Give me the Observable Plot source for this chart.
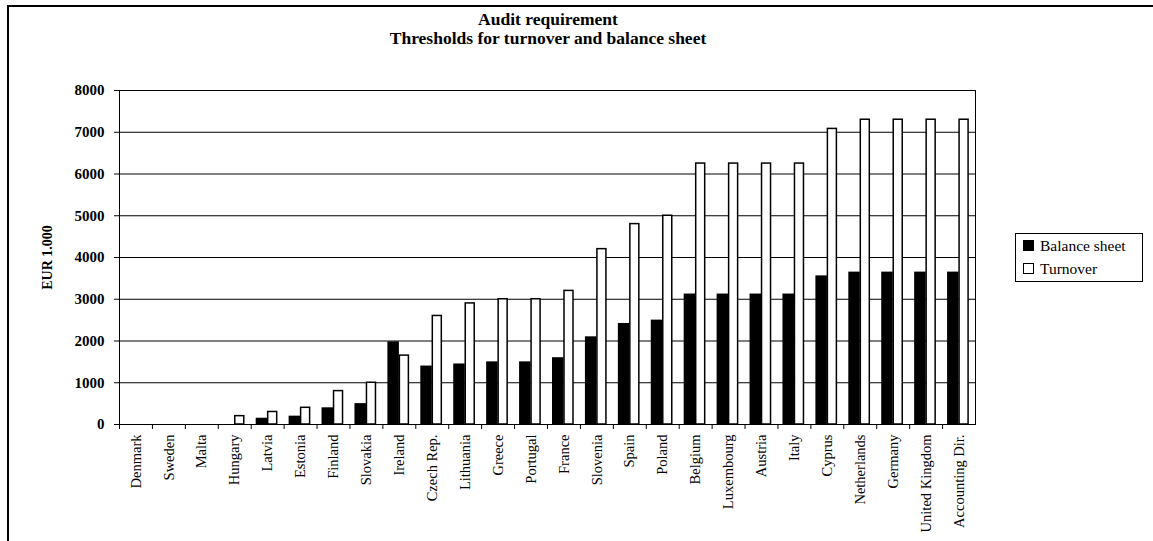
<!DOCTYPE html>
<html><head><meta charset="utf-8">
<script src="https://cdn.jsdelivr.net/npm/d3@7"></script>
<script src="https://cdn.jsdelivr.net/npm/@observablehq/plot@0.6"></script>
<style>
body{margin:0;background:#fff;}
#wrap{position:relative;width:1153px;height:541px;overflow:hidden;font-family:"Liberation Serif","Times New Roman",serif;color:#000;}
#border{position:absolute;left:7px;top:5px;right:-10px;bottom:-10px;border-left:2px solid #000;border-top:2px solid #000;pointer-events:none;}
#chart{position:absolute;left:0;top:0;}
#title{position:absolute;left:0;width:1096px;top:10px;text-align:center;font-weight:bold;font-size:17.5px;line-height:19px;}
#legend{position:absolute;left:1015px;top:233px;width:126px;height:47px;border:1px solid #000;font-size:15.5px;background:#fff;}
.item{position:absolute;left:7px;height:18px;line-height:18px;white-space:nowrap;}
.sw{display:inline-block;width:9px;height:9px;border:1px solid #000;margin-right:6px;vertical-align:0px;}
</style>
</head><body>
<div id="wrap">
  <div id="chart"></div>
  <div id="border"></div>
  <div id="title">Audit requirement<br>Thresholds for turnover and balance sheet</div>
  <div id="legend"></div>
</div>
<script>
const countries = ["Denmark","Sweden","Malta","Hungary","Latvia","Estonia","Finland","Slovakia","Ireland","Czech Rep.","Lithuania","Greece","Portugal","France","Slovenia","Spain","Poland","Belgium","Luxembourg","Austria","Italy","Cyprus","Netherlands","Germany","United Kingdom","Accounting Dir."];
const balanceSheet = [0,0,0,0,150,200,400,500,1980,1400,1450,1500,1500,1600,2100,2420,2500,3125,3125,3125,3125,3560,3650,3650,3650,3650];
const turnover = [0,0,0,200,300,400,800,1000,1650,2600,2900,3000,3000,3200,4200,4800,5000,6250,6250,6250,6250,7080,7300,7300,7300,7300];
const seriesNames = ["Balance sheet","Turnover"];
const seriesFill = ["#000000","#ffffff"];
const yTicks = [0,1000,2000,3000,4000,5000,6000,7000,8000];

const balData = countries.map((c,i)=>({country:c, value:balanceSheet[i]}));
const turnData = countries.map((c,i)=>({country:c, value:turnover[i]}));

const W = 1153, H = 541, mL = 119, mR = 178, mT = 90, mB = 117;
const bw = (W - mL - mR) / countries.length;

const plot = Plot.plot({
  width: W, height: H,
  marginLeft: mL, marginRight: mR, marginTop: mT, marginBottom: mB,
  style: {fontFamily: '"Liberation Serif","Times New Roman",serif', background: "#fff", color: "#000"},
  x: {type: "band", domain: countries, padding: 0, round: false},
  y: {domain: [0, 8000]},
  marks: [
    Plot.gridY(yTicks, {stroke: "#000", strokeOpacity: 1, strokeWidth: 1}),
    Plot.barY(balData, {x: "country", y: "value", fill: seriesFill[0], insetLeft: 5, insetRight: bw - 16.5}),
    Plot.barY(turnData, {x: "country", y: "value", fill: seriesFill[1], stroke: "#000", strokeWidth: 1.5, insetLeft: 17, insetRight: bw - 26}),
    Plot.frame({stroke: "#000", strokeWidth: 1}),
    Plot.axisY({ticks: yTicks, tickFormat: d => String(d), tickSize: 5, tickPadding: 10, fontSize: 15, fontWeight: "bold",
      label: "EUR 1.000", labelAnchor: "center", labelArrow: "none", labelOffset: 77}),
    Plot.axisX({tickSize: 5, tickFormat: null, dx: -bw/2, label: null}),
    Plot.axisX({tickSize: 0, tickPadding: 10, tickRotate: -90, fontSize: 14.5, label: null})
  ]
});
plot.querySelectorAll('g[aria-label="y-axis label"] text').forEach(t => { t.setAttribute("font-weight","bold"); t.setAttribute("font-size","14"); });
document.getElementById("chart").appendChild(plot);

const legend = document.getElementById("legend");
seriesNames.forEach((n,i)=>{
  const d = document.createElement("div");
  d.className = "item";
  d.style.top = (3 + i*23) + "px";
  d.innerHTML = `<span class="sw" style="background:${seriesFill[i]}"></span>${n}`;
  legend.appendChild(d);
});
</script>
</body></html>
